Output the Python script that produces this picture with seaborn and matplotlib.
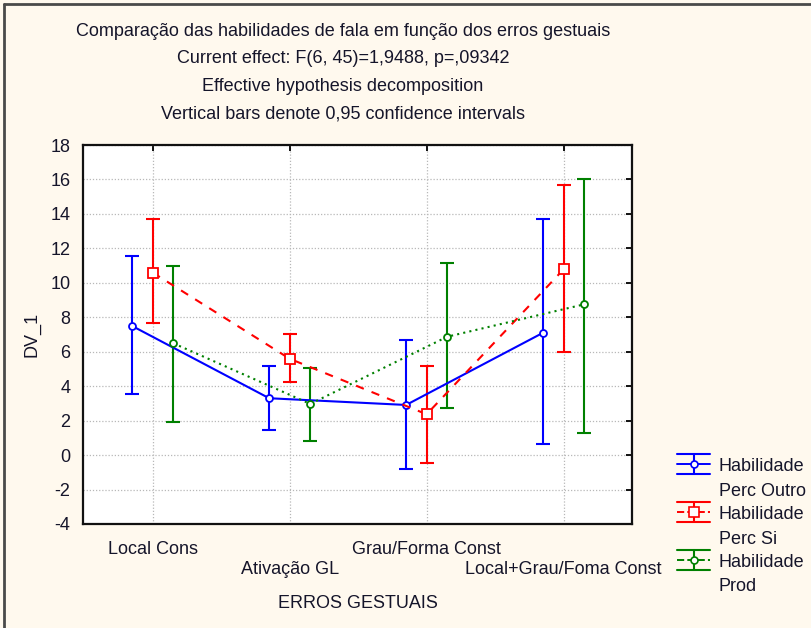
import numpy as np
import pandas as pd
import matplotlib
matplotlib.use("Agg")
import matplotlib.pyplot as plt
import seaborn as sns
from matplotlib.lines import Line2D
from matplotlib.legend_handler import HandlerBase

# ---- data -------------------------------------------------------------
categories = ["Local Cons", "Ativação GL", "Grau/Forma Const", "Local+Grau/Foma Const"]
series = ["Habilidade\nPerc Outro", "Habilidade\nPerc Si", "Habilidade\nProd"]

perc_outro_mean = [7.49, 3.30, 2.91, 7.10]
perc_outro_low = [3.53, 1.46, -0.81, 0.63]
perc_outro_high = [11.57, 5.17, 6.68, 13.69]

perc_si_mean = [10.59, 5.59, 2.37, 10.78]
perc_si_low = [7.65, 4.24, -0.44, 6.00]
perc_si_high = [13.69, 7.03, 5.17, 15.68]

prod_mean = [6.49, 2.97, 6.87, 8.75]
prod_low = [1.90, 0.84, 2.72, 1.30]
prod_high = [10.99, 5.06, 11.13, 16.02]

title_lines = [
    "Comparação das habilidades de fala em função dos erros gestuais",
    "Current effect: F(6, 45)=1,9488, p=,09342",
    "Effective hypothesis decomposition",
    "Vertical bars denote 0,95 confidence intervals",
]

# ---- long table -------------------------------------------------------
means = [perc_outro_mean, perc_si_mean, prod_mean]
lows = [perc_outro_low, perc_si_low, prod_low]
highs = [perc_outro_high, perc_si_high, prod_high]
offsets = [-0.15, 0.0, 0.15]
rows = []
for s, m, lo, hi, off in zip(series, means, lows, highs, offsets):
    for i, cat in enumerate(categories):
        rows.append(dict(serie=s, categoria=cat, pos=i + off,
                         media=m[i], baixo=lo[i], alto=hi[i]))
df = pd.DataFrame(rows)

# ---- style ------------------------------------------------------------
sns.set_theme(style="white")
plt.rcParams["font.family"] = ["Liberation Sans", "DejaVu Sans"]
plt.rcParams["axes.unicode_minus"] = False

BG = "#FFF9EE"
TXT = "#15152a"
colors = ["#0000FF", "#FF0000", "#008000"]
linestyles = ["-", (0, (4, 4)), (0, (1, 2))]
markers = ["o", "s", "o"]
msizes = [5, 6.5, 5]

W, H = 812, 628
fig = plt.figure(figsize=(W / 100, H / 100), dpi=100, facecolor=BG)
ax = fig.add_axes([83 / W, 1 - 524 / H, (632 - 83) / W, (524 - 145) / H])
ax.set_facecolor("white")

for s, c, ls, mk, ms in zip(series, colors, linestyles, markers, msizes):
    sub = df[df["serie"] == s]
    ax.errorbar(sub["pos"], sub["media"],
                yerr=[sub["media"] - sub["baixo"], sub["alto"] - sub["media"]],
                fmt="none", ecolor=c, elinewidth=1.5, capsize=4.8,
                capthick=1.5, zorder=2)
    sns.lineplot(data=sub, x="pos", y="media", ax=ax, color=c,
                 linestyle=ls, lw=1.5, marker=mk, markersize=ms,
                 markerfacecolor="white", markeredgecolor=c,
                 markeredgewidth=1.3, estimator=None, sort=False,
                 legend=False, zorder=3)

ax.set_xlim(-0.51, 3.5)
ax.set_ylim(-4, 18)
ax.set_yticks(np.arange(-4, 19, 2))
ax.set_xticks(range(len(categories)))
ax.set_xticklabels(categories)

ax.grid(True, color="#b8b8b8", linestyle=(0, (1, 1.5)), linewidth=0.9)
ax.set_axisbelow(True)
ax.tick_params(direction="in", length=4, width=1.3, top=True, right=True,
               labelsize=13, labelcolor=TXT, color="black")
ax.tick_params(axis="x", pad=12)
ax.tick_params(axis="y", pad=9)
# alternate category labels sit one row lower
for i, tick in enumerate(ax.xaxis.get_major_ticks()):
    if i % 2 == 1:
        tick.set_pad(27)
for sp in ax.spines.values():
    sp.set_color("#111111")
    sp.set_linewidth(1.6)

ax.set_xlabel("ERROS GESTUAIS", fontsize=13, color=TXT, labelpad=12)
ax.set_ylabel("DV_1", fontsize=13, color=TXT, labelpad=7)

# ---- title block ------------------------------------------------------
for k, line in enumerate(title_lines):
    fig.text(343 / W, 1 - (31 + 27.7 * k) / H, line, ha="center", va="center",
             fontsize=13, color=TXT)


# ---- legend with error-bar glyphs --------------------------------------
class CIHandler(HandlerBase):
    def __init__(self, lift):
        super().__init__()
        self.lift = lift

    def create_artists(self, legend, orig, xdescent, ydescent, width, height,
                       fontsize, trans):
        c = orig.get_color()
        x0, x1 = -xdescent, -xdescent + width
        xm = (x0 + x1) / 2
        yc = -ydescent + height / 2 + self.lift
        h = 7.2
        arts = [
            Line2D([x0, x1], [yc, yc], color=c, ls=orig.get_linestyle(), lw=1.4),
            Line2D([xm, xm], [yc - h, yc + h], color=c, lw=1.5),
            Line2D([x0, x1], [yc + h, yc + h], color=c, lw=1.5),
            Line2D([x0, x1], [yc - h, yc - h], color=c, lw=1.5),
            Line2D([xm], [yc], color=c, ls="none", marker=orig.get_marker(),
                   markersize=orig.get_markersize(), markerfacecolor="white",
                   markeredgecolor=c, markeredgewidth=1.2),
        ]
        for a in arts:
            a.set_transform(trans)
        return arts


proxies = [Line2D([], [], color=c, linestyle=ls, marker=mk, markersize=ms)
           for c, ls, mk, ms in zip(colors, linestyles, markers, msizes)]
handler = CIHandler(lift=10.6)
leg = fig.legend(proxies, series, loc="upper left",
                 bbox_to_anchor=(677 / W, 1 - 458 / H), frameon=False,
                 fontsize=13, handlelength=1.85, handletextpad=0.45,
                 borderpad=0, borderaxespad=0, labelspacing=0.33,
                 labelcolor=TXT,
                 handler_map={p: handler for p in proxies})
for t in leg.get_texts():
    t.set_linespacing(1.6)

# ---- outer frame ------------------------------------------------------
fig.add_artist(Line2D([4.5 / W, 4.5 / W], [0, 1 - 4 / H],
                      transform=fig.transFigure, color="#4a4a4a", lw=2))
fig.add_artist(Line2D([4.5 / W, 1], [1 - 4 / H, 1 - 4 / H],
                      transform=fig.transFigure, color="#4a4a4a", lw=2))

fig.savefig("out.png", dpi=100, facecolor=BG)
